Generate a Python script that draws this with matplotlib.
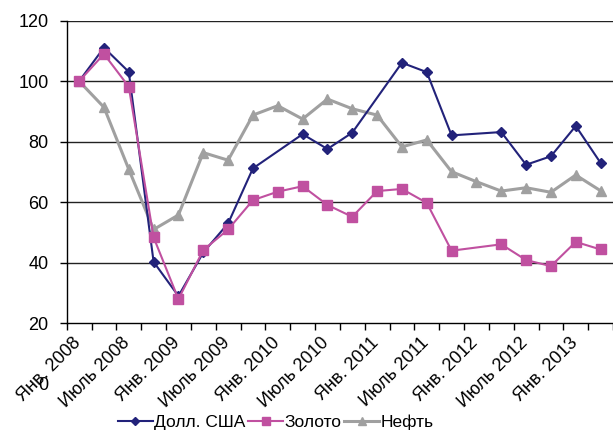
import numpy as np
import matplotlib
matplotlib.use("Agg")
import matplotlib.pyplot as plt

plt.rcParams['font.family'] = ['Liberation Sans', 'DejaVu Sans']

n_cat = 22
tick_labels = ["Янв. 2008", "Июль 2008", "Янв. 2009", "Июль 2009", "Янв. 2010",
               "Июль 2010", "Янв. 2011", "Июль 2011", "Янв. 2012", "Июль 2012",
               "Янв. 2013"]

nan = np.nan
usd = [100, 111.1, 103.1, 40.3, 29.0, 43.4, 53.0, 71.2, nan, 82.5, 77.6, 83.0,
       nan, 106.1, 103.0, 82.1, nan, 83.2, 72.4, 75.2, 85.2, 73.0]
gold = [100, 109.0, 98.2, 48.4, 28.0, 44.2, 51.0, 60.7, 63.5, 65.3, 59.1, 55.2,
        63.7, 64.4, 59.8, 44.0, nan, 46.1, 40.9, 38.9, 46.9, 44.4]
oil = [100, 91.4, 70.9, 51.0, 55.8, 76.4, 73.9, 88.8, 91.9, 87.5, 94.1, 90.9,
       88.8, 78.3, 80.6, 70.1, 66.8, 63.7, 64.8, 63.3, 69.0, 63.8]
series_names = ["Долл. США", "Золото", "Нефть"]

colors = ["#22227A", "#C050A0", "#A0A0A0"]
markers = ["D", "s", "^"]
msizes = [5, 6.5, 7.5]
lws = [1.5, 1.5, 2.2]
fs = 13

fig = plt.figure(figsize=(6.13, 4.32), dpi=100)
ax = fig.add_axes([0.1088, 0.2516, 0.8912, 0.7005])

x = np.arange(n_cat)
handles = []
for vals, name, c, m, ms, lw in zip([usd, gold, oil], series_names, colors, markers, msizes, lws):
    v = np.array(vals, dtype=float)
    mask = ~np.isnan(v)
    h, = ax.plot(x[mask], v[mask], color=c, marker=m, markersize=ms, lw=lw,
                 label=name, zorder=3 if name != "Нефть" else 2)
    handles.append(h)

ax.set_xlim(-0.5, n_cat - 0.5)
ax.set_ylim(20, 120)
ax.set_yticks(np.arange(20, 121, 20))
for yv in np.arange(40, 121, 20):
    ax.axhline(yv, color="#222222", lw=1.0, zorder=1)

ax.set_xticks(np.arange(-0.5, n_cat, 1.0))
ax.set_xticklabels([])
ax.tick_params(axis='x', direction='out', length=5, width=1, color='black')
ax.tick_params(axis='y', direction='out', length=5, width=1, color='black',
               labelsize=fs, pad=8)
for s in ['top', 'right']:
    ax.spines[s].set_visible(False)
for s in ['left', 'bottom']:
    ax.spines[s].set_color('black')
    ax.spines[s].set_linewidth(1.0)

for i, lab in enumerate(tick_labels):
    ax.annotate(lab, xy=(2 * i, 20), xycoords='data', xytext=(-5, -8),
                textcoords='offset points', rotation=45, ha='right', va='top',
                rotation_mode='anchor', fontsize=fs)

fig.text(43 / 613, 1 - 385 / 432, "0", fontsize=fs, ha='center', va='center')

fig.legend(handles=handles, labels=series_names, loc='center',
           bbox_to_anchor=(276 / 613, 1 - 422 / 432), ncol=3, frameon=False,
           fontsize=12.5, handlelength=2.0, handletextpad=0.1, columnspacing=0.15,
           borderpad=0, markerscale=0.8)

fig.savefig("out.png", dpi=100)
